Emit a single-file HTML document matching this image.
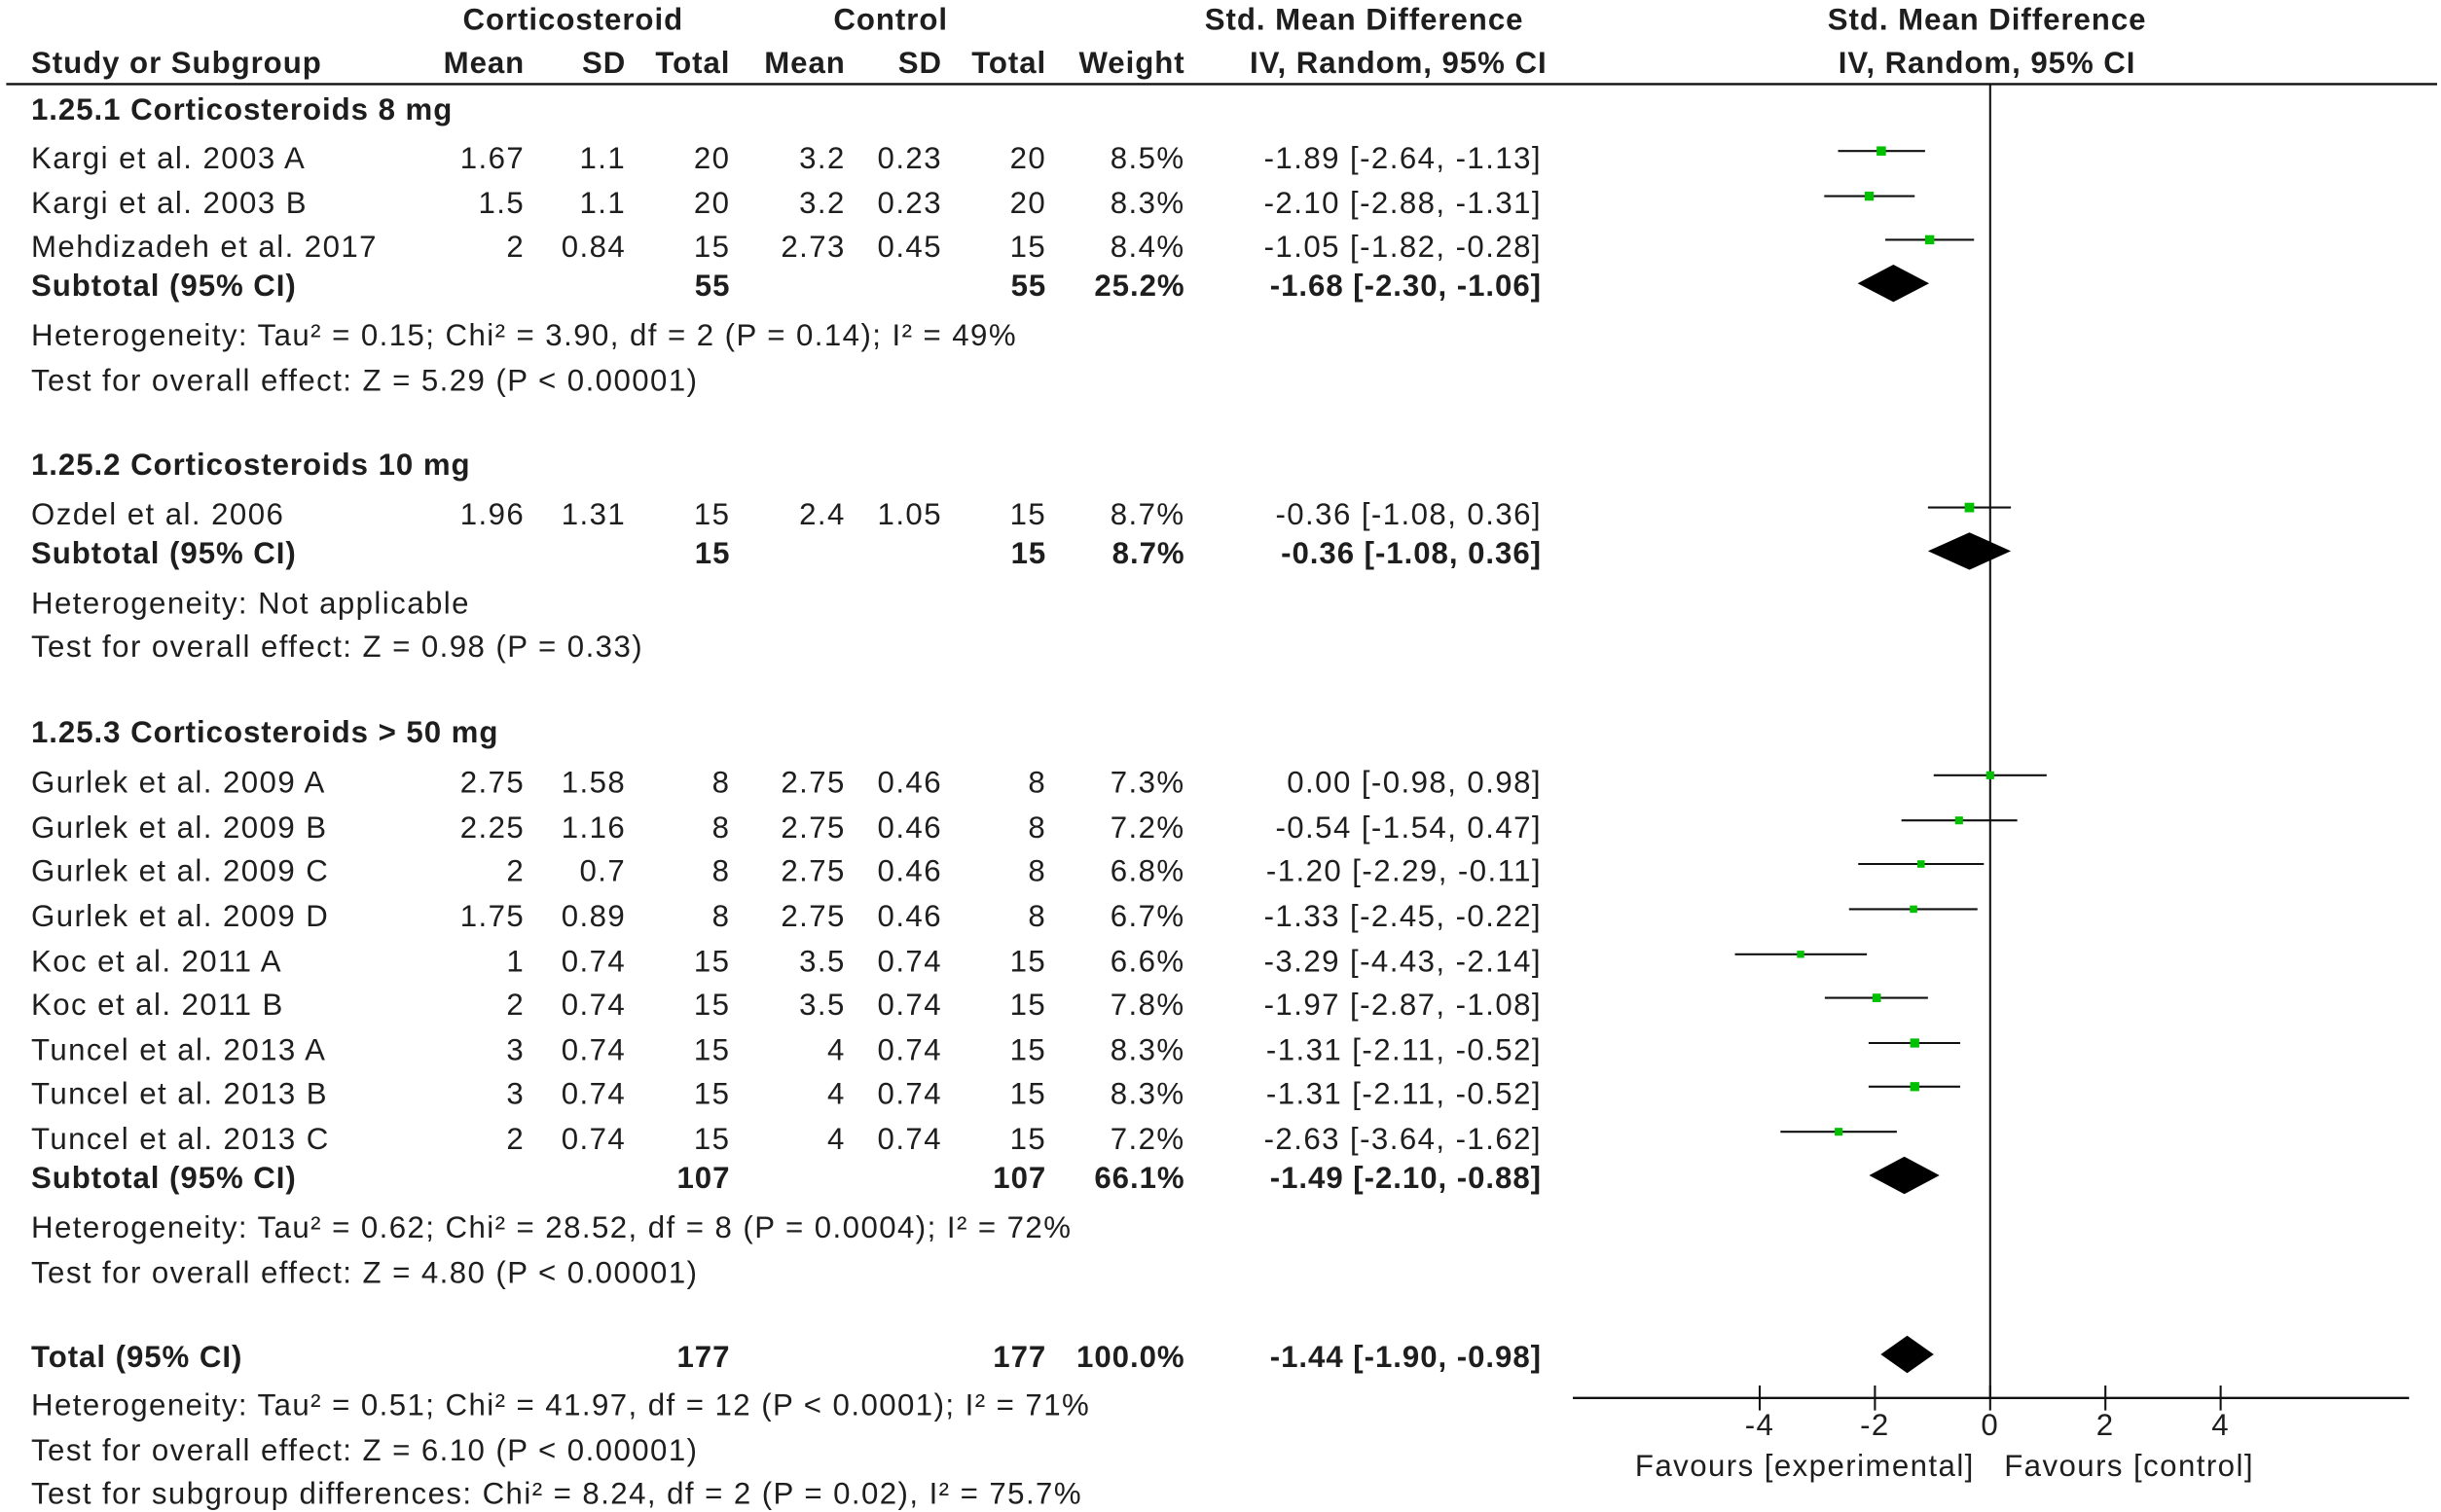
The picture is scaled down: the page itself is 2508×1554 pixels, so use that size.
<!DOCTYPE html>
<html><head><meta charset="utf-8"><style>
html,body{margin:0;padding:0;background:#fff;}
svg{display:block;}
text{font-family:"Liberation Sans",Arial,sans-serif;font-size:19.5px;fill:#1e1e1e;letter-spacing:0.9px;}
.b{font-weight:bold;letter-spacing:0.6px;}
</style></head><body>
<svg id="plot" width="2508" height="1554" viewBox="0 0 1567.5 971.25" xmlns="http://www.w3.org/2000/svg"></svg>
<script>
// ---- data ----
const studies = ["Kargi et al. 2003 A","Kargi et al. 2003 B","Mehdizadeh et al. 2017","Ozdel et al. 2006","Gurlek et al. 2009 A","Gurlek et al. 2009 B","Gurlek et al. 2009 C","Gurlek et al. 2009 D","Koc et al. 2011 A","Koc et al. 2011 B","Tuncel et al. 2013 A","Tuncel et al. 2013 B","Tuncel et al. 2013 C"];
const expMean = ["1.67","1.5","2","1.96","2.75","2.25","2","1.75","1","2","3","3","2"];
const expSD = ["1.1","1.1","0.84","1.31","1.58","1.16","0.7","0.89","0.74","0.74","0.74","0.74","0.74"];
const expN = [20,20,15,15,8,8,8,8,15,15,15,15,15];
const ctlMean = ["3.2","3.2","2.73","2.4","2.75","2.75","2.75","2.75","3.5","3.5","4","4","4"];
const ctlSD = ["0.23","0.23","0.45","1.05","0.46","0.46","0.46","0.46","0.74","0.74","0.74","0.74","0.74"];
const ctlN = [20,20,15,15,8,8,8,8,15,15,15,15,15];
const weights = [8.5,8.3,8.4,8.7,7.3,7.2,6.8,6.7,6.6,7.8,8.3,8.3,7.2];
const smd = [-1.89,-2.10,-1.05,-0.36,0.00,-0.54,-1.20,-1.33,-3.29,-1.97,-1.31,-1.31,-2.63];
const ciLo = [-2.64,-2.88,-1.82,-1.08,-0.98,-1.54,-2.29,-2.45,-4.43,-2.87,-2.11,-2.11,-3.64];
const ciHi = [-1.13,-1.31,-0.28,0.36,0.98,0.47,-0.11,-0.22,-2.14,-1.08,-0.52,-0.52,-1.62];
const studyRowY = [108,137,165,337,509,538,566,595,624,652,681,709,738];
const subLabels = ["Subtotal (95% CI)","Subtotal (95% CI)","Subtotal (95% CI)","Total (95% CI)"];
const subN = [55,15,107,177];
const subW = ["25.2%","8.7%","66.1%","100.0%"];
const subEst = [-1.68,-0.36,-1.49,-1.44];
const subLo = [-2.30,-1.08,-2.10,-1.90];
const subHi = [-1.06,0.36,-0.88,-0.98];
const subRowY = [190,362,763,878];
const tickVals = [-4,-2,0,2,4];

const svg = document.getElementById('plot');
const NS = 'http://www.w3.org/2000/svg';
function el(tag, attrs, parent){const e=document.createElementNS(NS,tag);for(const k in attrs)e.setAttribute(k,attrs[k]);(parent||svg).appendChild(e);return e;}
function txt(s,x,y,anchor,bold,name){const t=el('text',{x:x,y:y,'text-anchor':anchor||'start'});if(bold)t.setAttribute('class','b');t.textContent=s;


return t;}
const X0 = 1278, PX = 37;
function xs(v){return X0 + v*PX;}
const fmt = v => v.toFixed(2);
function ci(e,l,h){return fmt(e)+" ["+fmt(l)+", "+fmt(h)+"]";}

// headers
txt("Corticosteroid",368,19,'middle',true,'header-corticosteroid');
txt("Control",572,19,'middle',true,'header-control');
txt("Std. Mean Difference",876,19,'middle',true,'header-smd');
txt("Std. Mean Difference",1276,19,'middle',true,'header-smd-plot');
txt("Study or Subgroup",20,47,'start',true,'header-study');
txt("Mean",337,47,'end',true,'header-exp-mean');
txt("SD",402,47,'end',true,'header-exp-sd');
txt("Total",469,47,'end',true,'header-exp-total');
txt("Mean",543,47,'end',true,'header-ctl-mean');
txt("SD",605,47,'end',true,'header-ctl-sd');
txt("Total",672,47,'end',true,'header-ctl-total');
txt("Weight",761,47,'end',true,'header-weight');
txt("IV, Random, 95% CI",898,47,'middle',true,'header-ci');
txt("IV, Random, 95% CI",1276,47,'middle',true,'header-ci-plot');
let hl=el('line',{x1:4,y1:54,x2:1565,y2:54,stroke:'#111','stroke-width':1.5});



// group titles
txt("1.25.1 Corticosteroids 8 mg",20,77,'start',true,'group-title-1');
txt("1.25.2 Corticosteroids 10 mg",20,305,'start',true,'group-title-2');
txt("1.25.3 Corticosteroids > 50 mg",20,477,'start',true,'group-title-3');

// footnotes
const notes = [
["Heterogeneity: Tau\u00b2 = 0.15; Chi\u00b2 = 3.90, df = 2 (P = 0.14); I\u00b2 = 49%",222],
["Test for overall effect: Z = 5.29 (P < 0.00001)",251],
["Heterogeneity: Not applicable",394],
["Test for overall effect: Z = 0.98 (P = 0.33)",422],
["Heterogeneity: Tau\u00b2 = 0.62; Chi\u00b2 = 28.52, df = 8 (P = 0.0004); I\u00b2 = 72%",795],
["Test for overall effect: Z = 4.80 (P < 0.00001)",824],
["Heterogeneity: Tau\u00b2 = 0.51; Chi\u00b2 = 41.97, df = 12 (P < 0.0001); I\u00b2 = 71%",909],
["Test for overall effect: Z = 6.10 (P < 0.00001)",938],
["Test for subgroup differences: Chi\u00b2 = 8.24, df = 2 (P = 0.02), I\u00b2 = 75.7%",966]];
notes.forEach((n,i)=>txt(n[0],20,n[1],'start',false,'footnote-'+(i+1)));

// zero line & axis
let zl=el('line',{x1:X0,y1:54,x2:X0,y2:898,stroke:'#111','stroke-width':1.3});


let ax=el('line',{x1:1010,y1:898,x2:1547,y2:898,stroke:'#111','stroke-width':1.5});


tickVals.forEach(v=>{
  const t=el('line',{x1:xs(v),y1:890,x2:xs(v),y2:906,stroke:'#111','stroke-width':1.3});
  
  
  txt(String(v),xs(v),922,'middle',false,'x-tick-label');
});
txt("Favours [experimental]",1268,948,'end',false,'favours-experimental');
txt("Favours [control]",1287,948,'start',false,'favours-control');

// study rows
studies.forEach((s,i)=>{
  const y=studyRowY[i];
  txt(s,20,y,'start',false,'study-name');
  txt(expMean[i],337,y,'end',false,'exp-mean');
  txt(expSD[i],402,y,'end',false,'exp-sd');
  txt(String(expN[i]),469,y,'end',false,'exp-total');
  txt(ctlMean[i],543,y,'end',false,'ctl-mean');
  txt(ctlSD[i],605,y,'end',false,'ctl-sd');
  txt(String(ctlN[i]),672,y,'end',false,'ctl-total');
  txt(weights[i].toFixed(1)+"%",761,y,'end',false,'weight');
  txt(ci(smd[i],ciLo[i],ciHi[i]),990,y,'end',false,'study-ci');
  const my=y-11;
  const l=el('line',{x1:xs(ciLo[i]),y1:my,x2:xs(ciHi[i]),y2:my,stroke:'#111','stroke-width':1.3});
  
  
  const sz=weights[i]*0.7;
  const r=el('rect',{x:xs(smd[i])-sz/2,y:my-sz/2,width:sz,height:sz,fill:'#00c000'});
  
  
});

// subtotal rows
subLabels.forEach((s,i)=>{
  const y=subRowY[i];
  txt(s,20,y,'start',true,'subtotal-label');
  txt(String(subN[i]),469,y,'end',true,'subtotal-exp-n');
  txt(String(subN[i]),672,y,'end',true,'subtotal-ctl-n');
  txt(subW[i],761,y,'end',true,'subtotal-weight');
  txt(ci(subEst[i],subLo[i],subHi[i]),990,y,'end',true,'subtotal-ci');
  const cy=y-8,h=12;
  const d=el('polygon',{points:[xs(subLo[i])+','+cy, xs(subEst[i])+','+(cy-h), xs(subHi[i])+','+cy, xs(subEst[i])+','+(cy+h)].join(' '),fill:'#000'});
  
  
});
</script>
</body></html>
